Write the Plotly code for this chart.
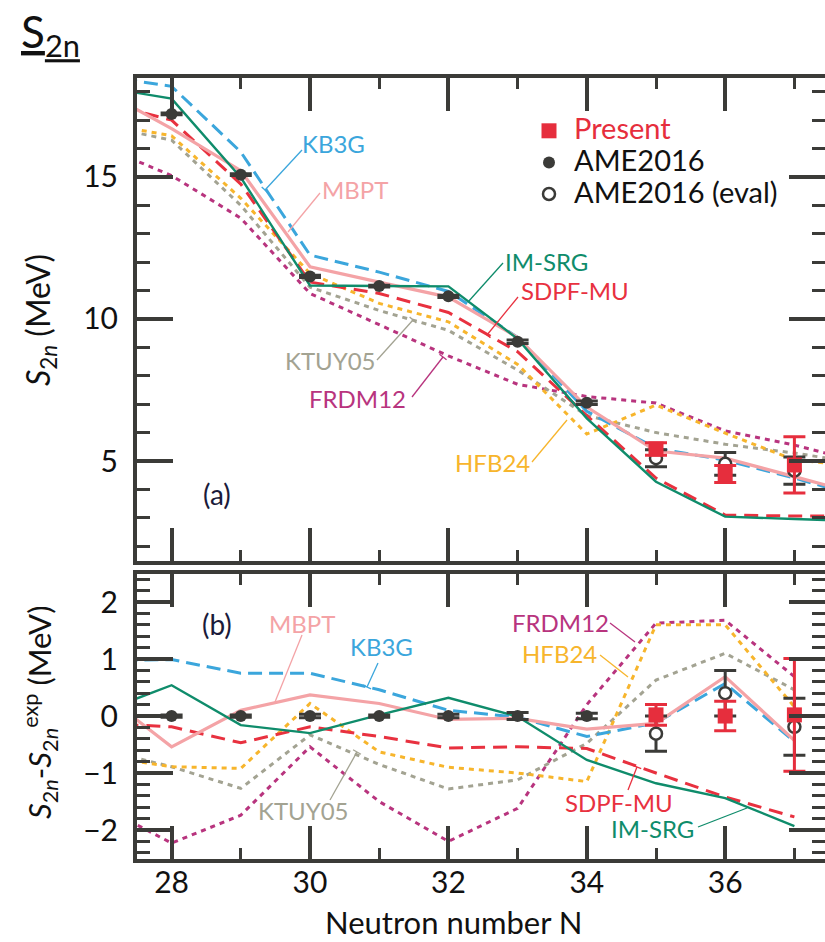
import math
import plotly.graph_objects as go

# ---------------- data ----------------
N_a = [27, 28, 29, 30, 31, 32, 33, 34, 35, 36, 37, 38]
kb3g_a   = [18.55, 18.19, 15.88, 12.25, 11.65, 10.97, 9.35, 6.75, 5.45, 5.03, 4.40, 3.70]
mbpt_a   = [18.04, 16.70, 15.22, 11.84, 11.30, 10.77, 9.35, 6.90, 5.35, 5.10, 4.45, 3.80]
imsrg_a  = [18.16, 17.76, 14.98, 11.18, 11.16, 11.15, 9.30, 6.50, 4.27, 3.04, 2.96, 2.88]
sdpfmu_a = [17.64, 17.00, 14.75, 11.30, 10.90, 10.23, 8.85, 6.60, 4.40, 3.10, 3.06, 3.06]
hfb24_a  = [16.89, 16.45, 14.25, 11.60, 10.55, 9.90, 8.40, 5.95, 6.97, 5.98, 5.04, 4.80]
ktuy05_a = [16.80, 16.30, 14.00, 11.12, 10.30, 9.60, 8.20, 6.60, 6.00, 5.59, 5.28, 4.90]
frdm12_a = [16.07, 15.05, 13.55, 10.90, 9.80, 8.70, 7.70, 7.27, 7.04, 6.06, 5.56, 4.93]

N_b = [27, 28, 29, 30, 31, 32, 33, 34, 35, 36, 37]
kb3g_b   = [0.97, 0.99, 0.75, 0.75, 0.46, 0.10, -0.02, -0.36, -0.12, 0.57, -0.45]
mbpt_b   = [0.40, -0.54, 0.10, 0.37, 0.22, -0.06, -0.04, -0.23, -0.13, 0.69, -0.43]
imsrg_b  = [0.08, 0.54, -0.16, -0.30, 0.02, 0.32, -0.01, -0.77, -1.18, -1.44, -1.93]
sdpfmu_b = [-0.13, -0.19, -0.47, -0.19, -0.36, -0.56, -0.54, -0.57, -1.00, -1.42, -1.77]
hfb24_b  = [-0.71, -0.89, -0.92, 0.22, -0.63, -0.90, -1.00, -1.15, 1.60, 1.60, 0.16]
ktuy05_b = [-0.59, -0.89, -1.27, -0.33, -0.85, -1.28, -1.12, -0.48, 0.63, 1.10, 0.46]
frdm12_b = [-1.59, -2.23, -1.74, -0.54, -1.50, -2.20, -1.62, 0.20, 1.63, 1.68, 0.69]

N_ame = [28, 29, 30, 31, 32, 33, 34]
ame_a = [17.22, 15.08, 11.50, 11.16, 10.80, 9.20, 7.05]
ame_a_err = [0.03, 0.03, 0.04, 0.03, 0.04, 0.06, 0.06]
ame_b = [0, 0, 0, 0, 0, 0, 0]
ame_b_err = [0.02, 0.02, 0.03, 0.02, 0.03, 0.06, 0.05]

N_new = [35, 36, 37]
present_a = [5.42, 4.54, 4.86]
present_a_err = [0.22, 0.30, 0.99]
eval_a = [5.10, 4.90, 4.66]
eval_a_err = [0.30, 0.40, 0.48]
present_b = [0.02, 0.00, 0.02]
present_b_err = [0.18, 0.26, 0.99]
eval_b = [-0.31, 0.40, -0.19]
eval_b_err = [0.31, 0.40, 0.50]

x_ticks = [28, 30, 32, 34, 36]

# ---------------- styles ----------------
FONT = "Lato"
DARK = "#3b3b38"
RED = "#e62e3d"
models = [
    ("FRDM12", "#b8347e", "5px,5px", 3.0, frdm12_a, frdm12_b),
    ("KTUY05", "#a3a392", "5px,5px", 3.0, ktuy05_a, ktuy05_b),
    ("HFB24", "#f7b52c", "5px,5px", 3.0, hfb24_a, hfb24_b),
    ("SDPF-MU", "#e8313f", "14px,8px", 3.0, sdpfmu_a, sdpfmu_b),
    ("KB3G", "#3ba6dc", "14px,7px", 3.0, kb3g_a, kb3g_b),
    ("MBPT", "#f4a3a6", "solid", 3.2, mbpt_a, mbpt_b),
    ("IM-SRG", "#0f8c6b", "solid", 2.4, imsrg_a, imsrg_b),
]
colors = {m[0]: m[1] for m in models}

fig = go.Figure()
for name, col, dash, w, ya, yb in models:
    fig.add_trace(go.Scatter(x=N_a, y=ya, mode="lines", line=dict(color=col, dash=dash, width=w),
                             showlegend=False, xaxis="x", yaxis="y"))
    fig.add_trace(go.Scatter(x=N_b, y=yb, mode="lines", line=dict(color=col, dash=dash, width=w),
                             showlegend=False, xaxis="x2", yaxis="y2"))

def err(arr, col):
    return dict(type="data", array=arr, visible=True, color=col, thickness=3, width=11)

LEG = "<span style='font-size:29px;%s'>%s</span>"
for xa, ya_ in (("x", "y"), ("x2", "y2")):
    top = ya_ == "y"
    fig.add_trace(go.Scatter(
        x=N_new, y=eval_a if top else eval_b, mode="markers",
        error_y=err(eval_a_err if top else eval_b_err, DARK),
        marker=dict(symbol="circle", size=12, color="white", line=dict(color=DARK, width=2.5)),
        name=LEG % ("", "AME2016 (eval)"), showlegend=top, legendrank=3, xaxis=xa, yaxis=ya_))
    fig.add_trace(go.Scatter(
        x=N_ame, y=ame_a if top else ame_b, mode="markers",
        error_y=err(ame_a_err if top else ame_b_err, DARK),
        marker=dict(symbol="circle", size=12, color=DARK),
        name=LEG % ("", "AME2016"), showlegend=top, legendrank=2, xaxis=xa, yaxis=ya_))
    fig.add_trace(go.Scatter(
        x=N_new, y=present_a if top else present_b, mode="markers",
        error_y=err(present_a_err if top else present_b_err, RED),
        marker=dict(symbol="square", size=15, color=RED),
        name=LEG % ("color:" + RED, "Present"), showlegend=top, legendrank=1,
        xaxis=xa, yaxis=ya_))

# ---------------- pixel helpers ----------------
L, R, T, B = 137, 825, 77, 860
W, H = R - L, B - T
def px(x):
    return (x - L) / W
def py(y):
    return (B - y) / H

xr = [27.5, 27.5 + W / 69.2]
axis_common = dict(showline=False, mirror="ticks", ticks="inside",
                   tickcolor=DARK, showgrid=False, zeroline=False,
                   tickfont=dict(family=FONT, size=30, color="#111"))
fig.update_layout(
    width=825, height=942,
    margin=dict(l=L, r=825 - R, t=T, b=942 - B),
    paper_bgcolor="white", plot_bgcolor="white",
    font=dict(family=FONT, color="#111"),
    xaxis=dict(domain=[0, 1], range=xr, anchor="y", tickvals=x_ticks, showticklabels=False,
               ticklen=34, tickwidth=4,
               minor=dict(dtick=1, tick0=27, ticklen=12, tickwidth=3, ticks="inside", tickcolor=DARK),
               **axis_common),
    yaxis=dict(domain=[py(562), 1], range=[1.444, 18.52], anchor="x", dtick=5, tick0=0,
               ticklen=36, tickwidth=4, ticklabelstandoff=18,
               minor=dict(dtick=1, tick0=0, ticklen=13, tickwidth=3, ticks="inside", tickcolor=DARK),
               **axis_common),
    xaxis2=dict(domain=[0, 1], range=xr, anchor="y2", tickvals=x_ticks,
                ticklen=34, tickwidth=4, ticklabelstandoff=2,
                minor=dict(dtick=1, tick0=27, ticklen=12, tickwidth=3, ticks="inside", tickcolor=DARK),
                **axis_common),
    yaxis2=dict(domain=[0, py(573)], range=[-2.526, 2.509], anchor="x2", dtick=1, tick0=0,
                ticklen=36, tickwidth=4, ticklabelstandoff=18,
                minor=dict(dtick=0.2, tick0=0, ticklen=13, tickwidth=3, ticks="inside", tickcolor=DARK),
                **axis_common),
    legend=dict(x=px(524), y=py(110), xanchor="left", yanchor="top", bgcolor="rgba(0,0,0,0)",
                font=dict(family=FONT, size=22, color="#111"), tracegroupgap=0, itemwidth=40),
)

annotations = []
def label(text, x, y, color, size=24):
    annotations.append(dict(text=text, x=px(x), y=py(y), xref="paper", yref="paper",
                            xanchor="center", yanchor="middle", showarrow=False,
                            font=dict(family=FONT, size=size, color=color)))

# panel (a) labels
label("KB3G", 333, 143, colors["KB3G"])
label("MBPT", 355, 189, colors["MBPT"])
label("IM-SRG", 546, 261, colors["IM-SRG"])
label("SDPF-MU", 575, 290, colors["SDPF-MU"])
label("KTUY05", 330, 360, colors["KTUY05"])
label("FRDM12", 357, 398, colors["FRDM12"])
label("HFB24", 492, 462, colors["HFB24"])
label("(a)", 217, 494, "#1b1b3a", 28)
# panel (b) labels
label("(b)", 217, 624, "#1b1b3a", 28)
label("MBPT", 302, 623, colors["MBPT"])
label("KB3G", 381, 646, colors["KB3G"])
label("KTUY05", 303, 810, colors["KTUY05"])
label("FRDM12", 560, 622, colors["FRDM12"])
label("HFB24", 559, 654, colors["HFB24"])
label("SDPF-MU", 619, 802, colors["SDPF-MU"])
label("IM-SRG", 652, 828, colors["IM-SRG"])

# titles
annotations.append(dict(text="<u>S<sub>2n</sub></u>", x=px(19), y=py(34), xref="paper", yref="paper",
                        xanchor="left", yanchor="middle", showarrow=False,
                        font=dict(family=FONT, size=44, color="#111")))
annotations.append(dict(text="<i>S</i><sub>2<i>n</i></sub> (MeV)", x=px(40), y=py(320),
                        xref="paper", yref="paper", xanchor="center", yanchor="middle",
                        textangle=-90, showarrow=False, font=dict(family=FONT, size=32, color="#111")))
annotations.append(dict(text="<i>S</i><sub>2<i>n</i></sub>-<i>S</i><sub>2<i>n</i></sub><sup>exp</sup> (MeV)",
                        x=px(40), y=py(712), xref="paper", yref="paper", xanchor="center",
                        yanchor="middle", textangle=-90, showarrow=False,
                        font=dict(family=FONT, size=31, color="#111")))
annotations.append(dict(text="Neutron number N", x=px(453), y=py(922), xref="paper", yref="paper",
                        xanchor="center", yanchor="middle", showarrow=False,
                        font=dict(family=FONT, size=31, color="#111")))

# leader lines (pixel coords)
leaders = [
    (302, 150, 265, 190, "KB3G", True),
    (320, 193, 288, 232, "MBPT", False),
    (503, 263, 468, 302, "IM-SRG", False),
    (518, 297, 487, 335, "SDPF-MU", True),
    (377, 360, 413, 320, "KTUY05", True),
    (412, 397, 443, 357, "FRDM12", True),
    (532, 462, 567, 420, "HFB24", False),
    (302, 635, 275, 702, "MBPT", False),
    (378, 663, 367, 687, "KB3G", True),
    (330, 800, 357, 752, "KTUY05", True),
    (610, 623, 635, 642, "FRDM12", False),
    (600, 655, 628, 677, "HFB24", False),
    (628, 790, 637, 767, "SDPF-MU", True),
    (698, 827, 747, 808, "IM-SRG", False),
]
shapes = []
for x0, y0, x1, y1, key, tbar in leaders:
    col = colors[key]
    shapes.append(dict(type="line", xref="paper", yref="paper", x0=px(x0), y0=py(y0),
                       x1=px(x1), y1=py(y1), line=dict(color=col, width=1.3)))
    if tbar:
        dx, dy = x1 - x0, y1 - y0
        ln = math.hypot(dx, dy)
        ux, uy = -dy / ln * 4.5, dx / ln * 4.5
        shapes.append(dict(type="line", xref="paper", yref="paper",
                           x0=px(x1 - ux), y0=py(y1 - uy), x1=px(x1 + ux), y1=py(y1 + uy),
                           line=dict(color=col, width=1.3)))

# open-right frames (the right edge of the original figure is cropped)
for top_px, bot_px in ((77, 562), (573, 860)):
    frame = dict(type="path", xref="paper", yref="paper",
                 path="M %f,%f L %f,%f L %f,%f L %f,%f" % (
                     px(830), py(top_px - 1), px(135), py(top_px - 1),
                     px(135), py(bot_px + 1), px(830), py(bot_px + 1)),
                 line=dict(color=DARK, width=4))
    shapes.append(frame)

fig.update_layout(annotations=annotations, shapes=shapes)
fig.write_html("out.html", config={"displayModeBar": False},
               post_script="document.body.style.margin='0px';document.body.style.overflow='hidden';")
